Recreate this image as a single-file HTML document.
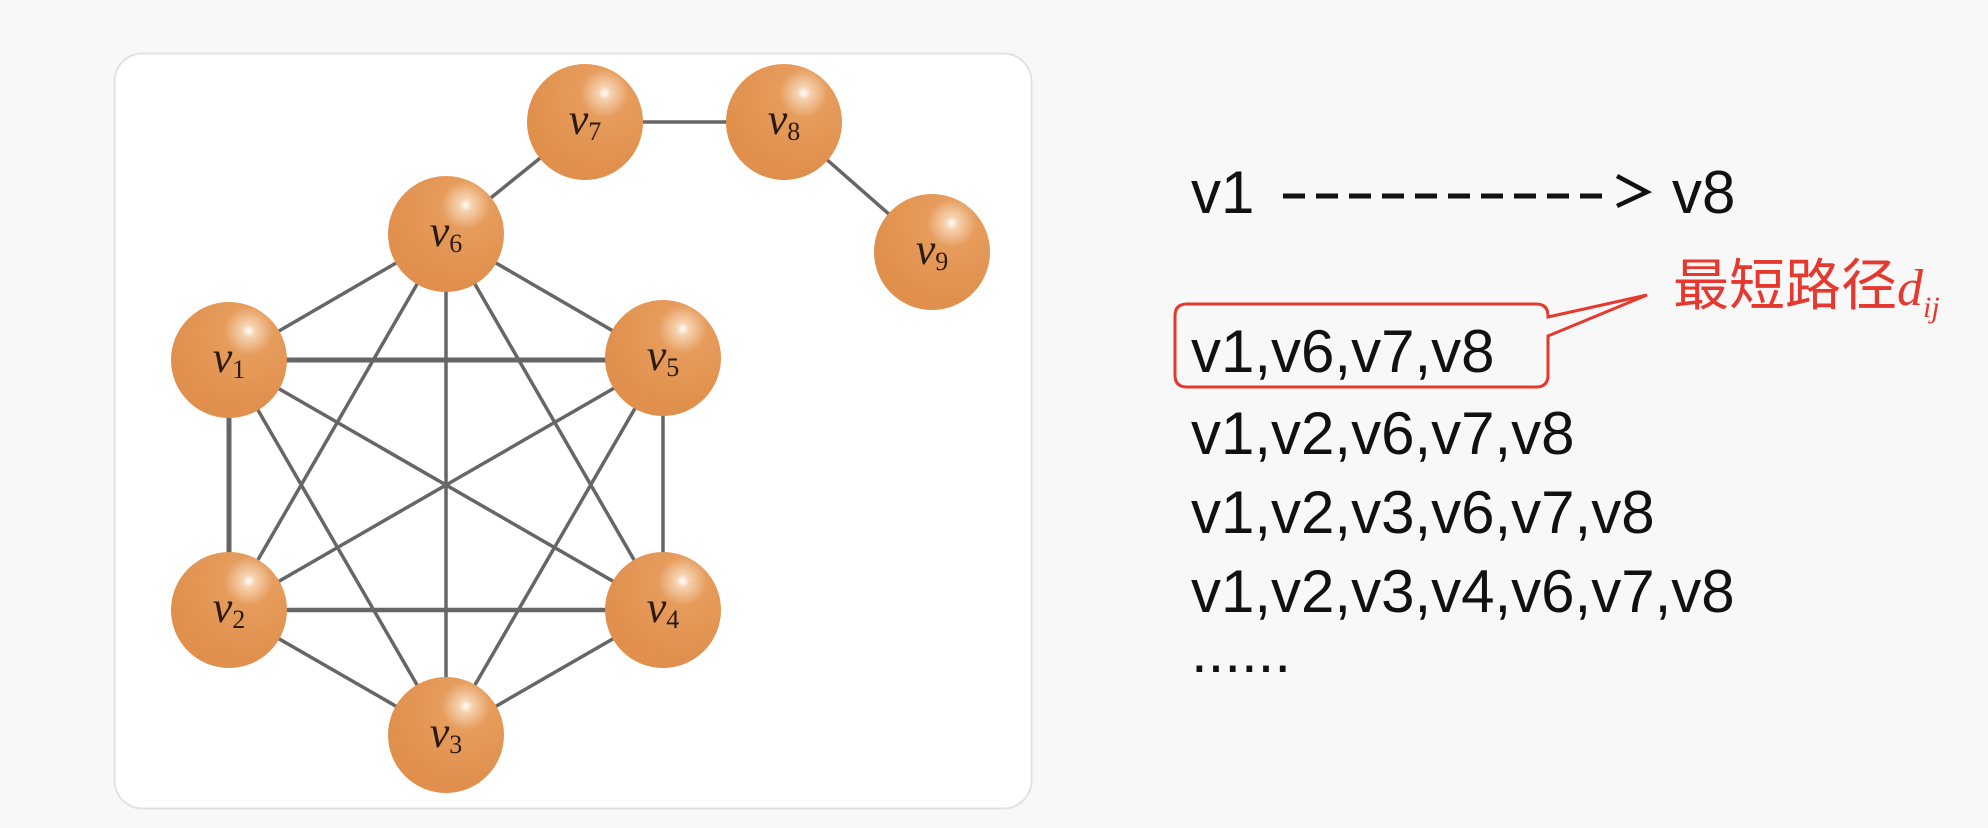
<!DOCTYPE html>
<html><head><meta charset="utf-8"><style>
html,body{margin:0;padding:0;background:#f8f8f8;}
svg{display:block}
.t{font-family:"Liberation Sans","Noto Sans CJK SC",sans-serif;font-size:60px;fill:#111}
.lab{font-family:"Liberation Serif",serif;font-style:italic;font-size:44px;fill:#2a1a10}
.sub{font-size:26px;font-style:normal}
</style></head><body>
<svg width="1988" height="828" viewBox="0 0 1988 828" xmlns="http://www.w3.org/2000/svg">
<defs>
<radialGradient id="g" cx="0.67" cy="0.25" r="0.7">
<stop offset="0" stop-color="#ffffff"/>
<stop offset="0.08" stop-color="#f6d2b0"/>
<stop offset="0.3" stop-color="#e69c5c"/>
<stop offset="1" stop-color="#e08f4c"/>
</radialGradient>
</defs>
<rect x="114.5" y="53.5" width="917" height="755" rx="28" fill="#fff" stroke="#e2e2e2" stroke-width="2"/>
<g stroke="#666" stroke-width="3.5">
<line x1="229" y1="360" x2="663" y2="360" stroke-width="5"/>
<line x1="229" y1="360" x2="229" y2="610" stroke-width="5"/>
<line x1="229" y1="360" x2="446" y2="234"/>
<line x1="229" y1="360" x2="446" y2="735"/>
<line x1="229" y1="360" x2="663" y2="610"/>
<line x1="663" y1="360" x2="663" y2="610"/>
<line x1="663" y1="360" x2="446" y2="234"/>
<line x1="663" y1="360" x2="446" y2="735"/>
<line x1="663" y1="360" x2="229" y2="610"/>
<line x1="229" y1="610" x2="663" y2="610" stroke-width="4.5"/>
<line x1="229" y1="610" x2="446" y2="234"/>
<line x1="229" y1="610" x2="446" y2="735"/>
<line x1="663" y1="610" x2="446" y2="234"/>
<line x1="663" y1="610" x2="446" y2="735"/>
<line x1="446" y1="234" x2="446" y2="735"/>
<line x1="446" y1="234" x2="585" y2="122"/>
<line x1="585" y1="122" x2="784" y2="122"/>
<line x1="784" y1="122" x2="932" y2="252"/>
</g>
<g fill="url(#g)">
<circle cx="585" cy="122" r="58"/>
<circle cx="784" cy="122" r="58"/>
<circle cx="446" cy="234" r="58"/>
<circle cx="932" cy="252" r="58"/>
<circle cx="229" cy="360" r="58"/>
<circle cx="663" cy="358" r="58"/>
<circle cx="229" cy="610" r="58"/>
<circle cx="663" cy="610" r="58"/>
<circle cx="446" cy="735" r="58"/>
</g>
<g class="lab" text-anchor="middle">
<text x="585" y="134">v<tspan class="sub" dy="6">7</tspan></text>
<text x="784" y="134">v<tspan class="sub" dy="6">8</tspan></text>
<text x="446" y="246">v<tspan class="sub" dy="6">6</tspan></text>
<text x="932" y="264">v<tspan class="sub" dy="6">9</tspan></text>
<text x="229" y="372">v<tspan class="sub" dy="6">1</tspan></text>
<text x="663" y="370">v<tspan class="sub" dy="6">5</tspan></text>
<text x="229" y="622">v<tspan class="sub" dy="6">2</tspan></text>
<text x="663" y="622">v<tspan class="sub" dy="6">4</tspan></text>
<text x="446" y="747">v<tspan class="sub" dy="6">3</tspan></text>
</g>
<text class="t" x="1191" y="213">v1</text>
<g stroke="#111" stroke-width="5">
<line x1="1283" y1="196" x2="1305" y2="196"/><line x1="1316" y1="196" x2="1338" y2="196"/>
<line x1="1349" y1="196" x2="1371" y2="196"/><line x1="1382" y1="196" x2="1404" y2="196"/>
<line x1="1415" y1="196" x2="1437" y2="196"/><line x1="1448" y1="196" x2="1470" y2="196"/>
<line x1="1481" y1="196" x2="1503" y2="196"/><line x1="1514" y1="196" x2="1536" y2="196"/>
<line x1="1547" y1="196" x2="1569" y2="196"/><line x1="1580" y1="196" x2="1602" y2="196"/>
</g>
<polyline points="1617,176 1647,192 1617,206" fill="none" stroke="#111" stroke-width="4.5"/>
<text class="t" x="1672" y="213">v8</text>
<path d="M1187,304 H1536 Q1548,304 1548,316 V317 L1647,295 L1548,336 V375 Q1548,387 1536,387 H1187 Q1175,387 1175,375 V316 Q1175,304 1187,304 Z" fill="none" stroke="#e5392f" stroke-width="3"/>
<text x="1673" y="305" font-family="'Liberation Sans','Noto Sans CJK SC',sans-serif" font-size="56" fill="#e5392f">最短路径<tspan font-family="'Liberation Serif',serif" font-style="italic" font-size="52">d</tspan><tspan font-family="'Liberation Serif',serif" font-style="italic" font-size="30" dy="12">ij</tspan></text>
<text class="t" x="1191" y="372">v1,v6,v7,v8</text>
<text class="t" x="1191" y="454">v1,v2,v6,v7,v8</text>
<text class="t" x="1191" y="533">v1,v2,v3,v6,v7,v8</text>
<text class="t" x="1191" y="612">v1,v2,v3,v4,v6,v7,v8</text>
<text class="t" x="1191" y="672">......</text>
</svg>
</body></html>
